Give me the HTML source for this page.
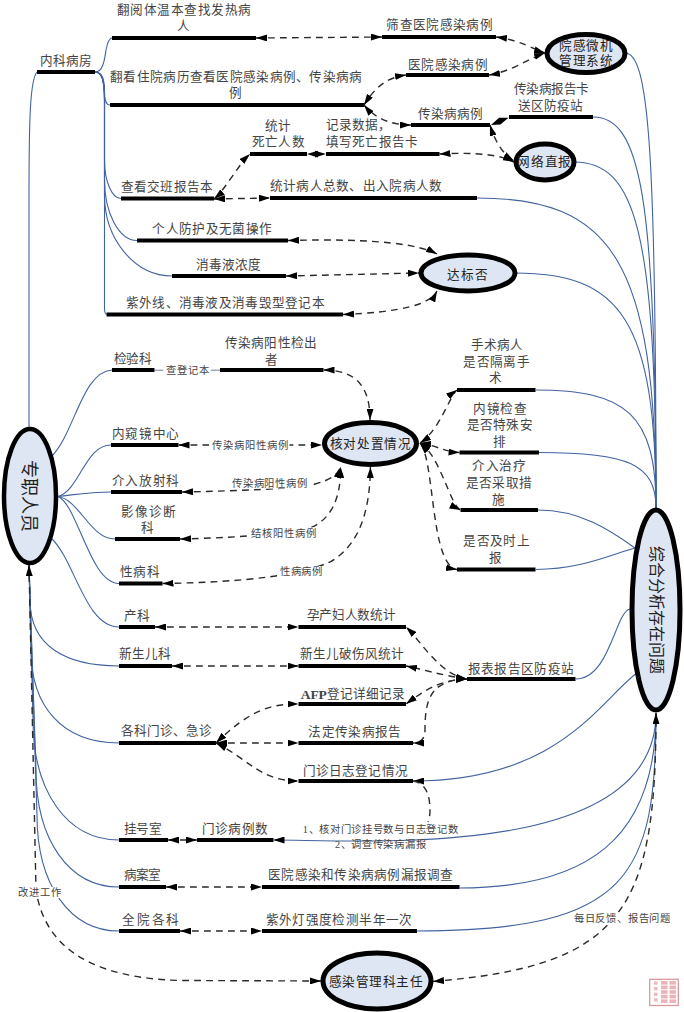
<!DOCTYPE html>
<html lang="zh-CN"><head><meta charset="utf-8"><title>diagram</title>
<style>html,body{margin:0;padding:0;background:#fff;}svg{display:block;font-family:"Liberation Serif",serif;}</style></head>
<body><svg width="684" height="1012" viewBox="0 0 684 1012">
<defs><marker id="ah" viewBox="0 0 11 7" refX="11" refY="3.5" markerWidth="11" markerHeight="7" markerUnits="userSpaceOnUse" orient="auto-start-reverse"><path d="M0,0 L11,3.5 L0,7 z" fill="#000"/></marker></defs>
<rect width="684" height="1012" fill="#fff"/>
<line x1="37" y1="72" x2="95" y2="72" stroke="#000" stroke-width="4.2"/>
<line x1="112" y1="38" x2="256" y2="38" stroke="#000" stroke-width="4.2"/>
<line x1="110" y1="105" x2="364" y2="105" stroke="#000" stroke-width="4.2"/>
<line x1="382" y1="37" x2="496" y2="37" stroke="#000" stroke-width="4.2"/>
<line x1="406" y1="75" x2="489" y2="75" stroke="#000" stroke-width="4.2"/>
<line x1="411" y1="125" x2="490" y2="125" stroke="#000" stroke-width="4.2"/>
<line x1="509" y1="117" x2="593" y2="117" stroke="#000" stroke-width="4.2"/>
<line x1="250" y1="154" x2="307" y2="154" stroke="#000" stroke-width="4.2"/>
<line x1="326" y1="154" x2="439.5" y2="154" stroke="#000" stroke-width="4.2"/>
<line x1="121" y1="198.5" x2="214" y2="198.5" stroke="#000" stroke-width="4.2"/>
<line x1="270" y1="198" x2="477" y2="198" stroke="#000" stroke-width="4.2"/>
<line x1="137" y1="240.5" x2="288" y2="240.5" stroke="#000" stroke-width="4.2"/>
<line x1="172" y1="276" x2="286" y2="276" stroke="#000" stroke-width="4.2"/>
<line x1="106.5" y1="314.5" x2="343" y2="314.5" stroke="#000" stroke-width="4.2"/>
<line x1="112" y1="370" x2="154.5" y2="370" stroke="#000" stroke-width="4.2"/>
<line x1="220" y1="370" x2="323.5" y2="370" stroke="#000" stroke-width="4.2"/>
<line x1="457" y1="390" x2="535.5" y2="390" stroke="#000" stroke-width="4.2"/>
<line x1="111" y1="445" x2="178.5" y2="445" stroke="#000" stroke-width="4.2"/>
<line x1="459.5" y1="452.5" x2="539" y2="452.5" stroke="#000" stroke-width="4.2"/>
<line x1="111" y1="492" x2="182" y2="492" stroke="#000" stroke-width="4.2"/>
<line x1="460.5" y1="510" x2="538" y2="510" stroke="#000" stroke-width="4.2"/>
<line x1="115" y1="539" x2="180" y2="539" stroke="#000" stroke-width="4.2"/>
<line x1="457" y1="569.5" x2="535.5" y2="569.5" stroke="#000" stroke-width="4.2"/>
<line x1="119" y1="583.5" x2="162.5" y2="583.5" stroke="#000" stroke-width="4.2"/>
<line x1="119" y1="627" x2="155" y2="627" stroke="#000" stroke-width="4.2"/>
<line x1="298.5" y1="627" x2="406" y2="627" stroke="#000" stroke-width="4.2"/>
<line x1="119" y1="666" x2="172" y2="666" stroke="#000" stroke-width="4.2"/>
<line x1="298.5" y1="666" x2="406" y2="666" stroke="#000" stroke-width="4.2"/>
<line x1="467" y1="679" x2="575.5" y2="679" stroke="#000" stroke-width="4.2"/>
<line x1="298.5" y1="704" x2="406" y2="704" stroke="#000" stroke-width="4.2"/>
<line x1="119" y1="743" x2="216" y2="743" stroke="#000" stroke-width="4.2"/>
<line x1="298.5" y1="743" x2="413" y2="743" stroke="#000" stroke-width="4.2"/>
<line x1="298.5" y1="781" x2="413" y2="781" stroke="#000" stroke-width="4.2"/>
<line x1="119" y1="840" x2="168" y2="840" stroke="#000" stroke-width="4.2"/>
<line x1="197" y1="840" x2="273.5" y2="840" stroke="#000" stroke-width="4.2"/>
<line x1="119" y1="887" x2="166" y2="887" stroke="#000" stroke-width="4.2"/>
<line x1="262" y1="887" x2="459.5" y2="887" stroke="#000" stroke-width="4.2"/>
<line x1="119" y1="931" x2="180" y2="931" stroke="#000" stroke-width="4.2"/>
<line x1="262" y1="931" x2="417" y2="931" stroke="#000" stroke-width="4.2"/>
<path d="M95,72 C103,72 104.5,60 106,50 C108,40 110,38 112,38" fill="none" stroke="#41639f" stroke-width="1.1"/>
<path d="M95,72 C102,72 104.5,78 104.5,92 C104.5,100 106,105 110,105" fill="none" stroke="#41639f" stroke-width="1.1"/>
<path d="M95,72 C102,72 104.5,80 104.5,100 L104.5,160 C104.5,181.175 111.925,198.5 121,198.5" fill="none" stroke="#41639f" stroke-width="1.1"/>
<path d="M95,72 C102,72 104.5,80 104.5,100 L104.5,180 C104.5,213.275 119.125,240.5 137,240.5" fill="none" stroke="#41639f" stroke-width="1.1"/>
<path d="M95,72 C102,72 104.5,80 104.5,100 L104.5,195 C104.5,239.55 134.875,276 172,276" fill="none" stroke="#41639f" stroke-width="1.1"/>
<path d="M95,72 C102,72 104.5,80 104.5,100 L104.5,308 C104.5,313 105,314.5 107,314.5" fill="none" stroke="#41639f" stroke-width="1.1"/>
<path d="M29,429 L29,200 C29,120 30,80 37,72" fill="none" stroke="#41639f" stroke-width="1.1"/>
<path d="M52,456 C75,432 82,372 112,370" fill="none" stroke="#41639f" stroke-width="1.1"/>
<path d="M58,496.5 C80,490 85,445 111,445" fill="none" stroke="#41639f" stroke-width="1.1"/>
<path d="M58,496.5 C80,494 90,492 111,492" fill="none" stroke="#41639f" stroke-width="1.1"/>
<path d="M58,496.5 C80,500 90,539 115,539" fill="none" stroke="#41639f" stroke-width="1.1"/>
<path d="M58,496.5 C78,505 90,583.5 119,583.5" fill="none" stroke="#41639f" stroke-width="1.1"/>
<path d="M51,538 C75,560 85,627 119,627" fill="none" stroke="#41639f" stroke-width="1.1"/>
<path d="M29,565 L30,600 C30,646.2 65.6,666 119,666" fill="none" stroke="#41639f" stroke-width="1.1"/>
<path d="M29,565 L31,650 C31,705.8 61.8,743 119,743" fill="none" stroke="#41639f" stroke-width="1.1"/>
<path d="M29,565 L33,720 C33,792.0 67.4,840 119,840" fill="none" stroke="#41639f" stroke-width="1.1"/>
<path d="M29,565 L36,770 C36,840.2 69.2,887 119,887" fill="none" stroke="#41639f" stroke-width="1.1"/>
<path d="M29,565 L37,815 C37,884.6 69.8,931 119,931" fill="none" stroke="#41639f" stroke-width="1.1"/>
<path d="M625,53 C648.25,53 656,144.0 656,508" fill="none" stroke="#41639f" stroke-width="1.1"/>
<path d="M593,117 C640.25,117 656,195.2 656,508" fill="none" stroke="#41639f" stroke-width="1.1"/>
<path d="M574,162 C635.5,162 656,231.2 656,508" fill="none" stroke="#41639f" stroke-width="1.1"/>
<path d="M477,198 C611.25,198 656,260.0 656,508" fill="none" stroke="#41639f" stroke-width="1.1"/>
<path d="M515,273 C620.75,273 656,320.0 656,508" fill="none" stroke="#41639f" stroke-width="1.1"/>
<path d="M535.5,390 C625.875,390 656,413.6 656,508" fill="none" stroke="#41639f" stroke-width="1.1"/>
<path d="M539,452.5 C626.75,452.5 656,463.6 656,508" fill="none" stroke="#41639f" stroke-width="1.1"/>
<path d="M538,510 C580,510 610,530 635,548" fill="none" stroke="#41639f" stroke-width="1.1"/>
<path d="M535.5,569.5 C580,569.5 610,555 635,548" fill="none" stroke="#41639f" stroke-width="1.1"/>
<path d="M575.5,679 C610,679 615,612 630,609" fill="none" stroke="#41639f" stroke-width="1.1"/>
<path d="M637,673 C600,700 560,781 413,781" fill="none" stroke="#41639f" stroke-width="1.1" marker-end="url(#ah)"/>
<path d="M656.0,713.0 C656.0,861.6 365.5,840.0 273.5,840.0" fill="none" stroke="#41639f" stroke-width="1.1" marker-end="url(#ah)"/>
<path d="M656.0,713.0 C656.0,839.4 586.6,888.0 459.4,888.0" fill="none" stroke="#41639f" stroke-width="1.1"/>
<path d="M656.0,713.0 C656.0,875.2 630.6,931.0 417.0,931.0" fill="none" stroke="#41639f" stroke-width="1.1"/>
<path d="M256,38 L382,37" fill="none" stroke="#2a2a2a" stroke-width="1.4" stroke-dasharray="6.8 5.2" marker-start="url(#ah)" marker-end="url(#ah)"/>
<path d="M496,37 C520,40 535,50 545,53" fill="none" stroke="#2a2a2a" stroke-width="1.4" stroke-dasharray="6.8 5.2" marker-start="url(#ah)" marker-end="url(#ah)"/>
<path d="M489,75 C510,72 530,58 545,53" fill="none" stroke="#2a2a2a" stroke-width="1.4" stroke-dasharray="6.8 5.2" marker-start="url(#ah)" marker-end="url(#ah)"/>
<path d="M406,75 C385,78 375,88 364,105" fill="none" stroke="#2a2a2a" stroke-width="1.4" stroke-dasharray="6.8 5.2" marker-start="url(#ah)" marker-end="url(#ah)"/>
<path d="M411,125 C390,125 375,118 364,105" fill="none" stroke="#2a2a2a" stroke-width="1.4" stroke-dasharray="6.8 5.2" marker-start="url(#ah)" marker-end="url(#ah)"/>
<path d="M490,125 C494,138 501,153 514,161" fill="none" stroke="#2a2a2a" stroke-width="1.4" stroke-dasharray="6.8 5.2" marker-start="url(#ah)" marker-end="url(#ah)"/>
<path d="M439.5,154 C480,152 500,155 514,162" fill="none" stroke="#2a2a2a" stroke-width="1.4" stroke-dasharray="6.8 5.2" marker-start="url(#ah)" marker-end="url(#ah)"/>
<path d="M214,199 C225,190 238,165 250,154" fill="none" stroke="#2a2a2a" stroke-width="1.4" stroke-dasharray="6.8 5.2" marker-start="url(#ah)" marker-end="url(#ah)"/>
<path d="M214,199 L270,198" fill="none" stroke="#2a2a2a" stroke-width="1.4" stroke-dasharray="6.8 5.2" marker-start="url(#ah)" marker-end="url(#ah)"/>
<path d="M288,240.5 C380,238 420,245 437,254" fill="none" stroke="#2a2a2a" stroke-width="1.4" stroke-dasharray="6.8 5.2" marker-start="url(#ah)" marker-end="url(#ah)"/>
<path d="M286,276 L419,273" fill="none" stroke="#2a2a2a" stroke-width="1.4" stroke-dasharray="6.8 5.2" marker-start="url(#ah)" marker-end="url(#ah)"/>
<path d="M343,314.5 C400,312 430,305 437,291" fill="none" stroke="#2a2a2a" stroke-width="1.4" stroke-dasharray="6.8 5.2" marker-start="url(#ah)" marker-end="url(#ah)"/>
<path d="M323.5,370 C355,370 370,385 370,420" fill="none" stroke="#2a2a2a" stroke-width="1.4" stroke-dasharray="6.8 5.2" marker-start="url(#ah)" marker-end="url(#ah)"/>
<path d="M178.5,445 L322,445" fill="none" stroke="#2a2a2a" stroke-width="1.4" stroke-dasharray="6.8 5.2" marker-start="url(#ah)" marker-end="url(#ah)"/>
<path d="M182,492 C230,491 300,489 315,484 C330,480 338,475 340.6,467" fill="none" stroke="#2a2a2a" stroke-width="1.4" stroke-dasharray="6.8 5.2" marker-start="url(#ah)" marker-end="url(#ah)"/>
<path d="M180,539 C230,538 290,534 310,528 C330,520 341,500 340.6,467" fill="none" stroke="#2a2a2a" stroke-width="1.4" stroke-dasharray="6.8 5.2" marker-start="url(#ah)" marker-end="url(#ah)"/>
<path d="M162.5,583.5 C250,582 300,575 330,562 C360,545 370,510 370.4,467" fill="none" stroke="#2a2a2a" stroke-width="1.4" stroke-dasharray="6.8 5.2" marker-start="url(#ah)" marker-end="url(#ah)"/>
<path d="M420,443 C440,430 450,395 457,390" fill="none" stroke="#2a2a2a" stroke-width="1.4" stroke-dasharray="6.8 5.2" marker-start="url(#ah)" marker-end="url(#ah)"/>
<path d="M420,443 C435,445 445,452 459.5,452.5" fill="none" stroke="#2a2a2a" stroke-width="1.4" stroke-dasharray="6.8 5.2" marker-start="url(#ah)" marker-end="url(#ah)"/>
<path d="M420,443 C440,455 450,505 460.5,510" fill="none" stroke="#2a2a2a" stroke-width="1.4" stroke-dasharray="6.8 5.2" marker-start="url(#ah)" marker-end="url(#ah)"/>
<path d="M420,443 C435,460 430,565 457,569.5" fill="none" stroke="#2a2a2a" stroke-width="1.4" stroke-dasharray="6.8 5.2" marker-start="url(#ah)" marker-end="url(#ah)"/>
<path d="M155,627 L298.5,627" fill="none" stroke="#2a2a2a" stroke-width="1.4" stroke-dasharray="6.8 5.2" marker-start="url(#ah)" marker-end="url(#ah)"/>
<path d="M172,666 L298.5,666" fill="none" stroke="#2a2a2a" stroke-width="1.4" stroke-dasharray="6.8 5.2" marker-start="url(#ah)" marker-end="url(#ah)"/>
<path d="M216,743 C250,710 270,704 298.5,704" fill="none" stroke="#2a2a2a" stroke-width="1.4" stroke-dasharray="6.8 5.2" marker-start="url(#ah)" marker-end="url(#ah)"/>
<path d="M216,743 L298.5,743" fill="none" stroke="#2a2a2a" stroke-width="1.4" stroke-dasharray="6.8 5.2" marker-start="url(#ah)" marker-end="url(#ah)"/>
<path d="M216,743 C250,760 260,781 298.5,781" fill="none" stroke="#2a2a2a" stroke-width="1.4" stroke-dasharray="6.8 5.2" marker-start="url(#ah)" marker-end="url(#ah)"/>
<path d="M467,679 C440,675 420,640 406,627" fill="none" stroke="#2a2a2a" stroke-width="1.4" stroke-dasharray="6.8 5.2" marker-start="url(#ah)" marker-end="url(#ah)"/>
<path d="M467,679 C440,675 425,670 406,666" fill="none" stroke="#2a2a2a" stroke-width="1.4" stroke-dasharray="6.8 5.2" marker-start="url(#ah)" marker-end="url(#ah)"/>
<path d="M467,679 C440,680 425,690 406,704" fill="none" stroke="#2a2a2a" stroke-width="1.4" stroke-dasharray="6.8 5.2" marker-start="url(#ah)" marker-end="url(#ah)"/>
<path d="M467,679 C430,680 425,700 425,730 C425,740 420,743 413,743" fill="none" stroke="#2a2a2a" stroke-width="1.4" stroke-dasharray="6.8 5.2" marker-start="url(#ah)" marker-end="url(#ah)"/>
<path d="M168,840 L197,840" fill="none" stroke="#2a2a2a" stroke-width="1.4" stroke-dasharray="6.8 5.2" marker-start="url(#ah)" marker-end="url(#ah)"/>
<path d="M413,781 C428,783 430,800 430,810 C430,816 429,820 428,822" fill="none" stroke="#2a2a2a" stroke-width="1.4" stroke-dasharray="6.8 5.2"/>
<path d="M166,887 L262,887" fill="none" stroke="#2a2a2a" stroke-width="1.4" stroke-dasharray="6.8 5.2" marker-start="url(#ah)" marker-end="url(#ah)"/>
<path d="M180,931 L262,931" fill="none" stroke="#2a2a2a" stroke-width="1.4" stroke-dasharray="6.8 5.2" marker-start="url(#ah)" marker-end="url(#ah)"/>
<path d="M321,981 L180,980.5 C95,978 45,950 36,890 L29,565" fill="none" stroke="#2a2a2a" stroke-width="1.4" stroke-dasharray="6.8 5.2" marker-start="url(#ah)" marker-end="url(#ah)"/>
<path d="M433.0,981.4 C624.5,966.1 656.0,909.3 656.0,713.0" fill="none" stroke="#2a2a2a" stroke-width="1.4" stroke-dasharray="6.8 5.2" marker-start="url(#ah)" marker-end="url(#ah)"/>
<polygon points="491,125 499,117.8 508.5,117.8 500.5,124.6" fill="#000"/>
<polygon points="307,154.1 318,150.8 318,157.4" fill="#000"/><polygon points="326,154.1 315,150.8 315,157.4" fill="#000"/>
<line x1="154.5" y1="370.2" x2="220" y2="370.2" stroke="#6f7f9f" stroke-width="1"/>
<ellipse cx="586" cy="53.5" rx="39" ry="19" fill="#dfe6f3" stroke="#000" stroke-width="5"/>
<ellipse cx="545" cy="162" rx="29" ry="18" fill="#dfe6f3" stroke="#000" stroke-width="5"/>
<ellipse cx="468" cy="273" rx="47" ry="18" fill="#dfe6f3" stroke="#000" stroke-width="5"/>
<ellipse cx="370.5" cy="443.5" rx="46" ry="21" fill="#dfe6f3" stroke="#000" stroke-width="5"/>
<ellipse cx="30" cy="496" rx="26" ry="67" fill="#dfe6f3" stroke="#000" stroke-width="4.5"/>
<ellipse cx="656" cy="610" rx="24" ry="100" fill="#dfe6f3" stroke="#000" stroke-width="5"/>
<ellipse cx="377" cy="981" rx="54" ry="28" fill="#dfe6f3" stroke="#000" stroke-width="5"/>
<text x="116.7" y="10" font-size="12.6" dominant-baseline="central" font-weight="normal" fill="#444" textLength="134.5" lengthAdjust="spacing">翻阅体温本查找发热病</text>
<text x="183.5" y="26" font-size="12.6" text-anchor="middle" dominant-baseline="central" font-weight="normal" fill="#444" >人</text>
<text x="110.2" y="77" font-size="12.6" dominant-baseline="central" font-weight="normal" fill="#444" textLength="252.0" lengthAdjust="spacing">翻看住院病历查看医院感染病例、传染病病</text>
<text x="235.5" y="93" font-size="12.6" text-anchor="middle" dominant-baseline="central" font-weight="normal" fill="#444" >例</text>
<text x="39.7" y="60.5" font-size="12.6" dominant-baseline="central" font-weight="normal" fill="#444" textLength="52.5" lengthAdjust="spacing">内科病房</text>
<text x="386.2" y="25" font-size="12.6" dominant-baseline="central" font-weight="normal" fill="#444" textLength="106.5" lengthAdjust="spacing">筛查医院感染病例</text>
<text x="407.7" y="64.5" font-size="12.6" dominant-baseline="central" font-weight="normal" fill="#444" textLength="80.0" lengthAdjust="spacing">医院感染病例</text>
<text x="417.7" y="114" font-size="12.6" dominant-baseline="central" font-weight="normal" fill="#444" textLength="65.5" lengthAdjust="spacing">传染病病例</text>
<text x="558.7" y="46" font-size="12.6" dominant-baseline="central" font-weight="normal" fill="#222" textLength="54.5" lengthAdjust="spacing">院感微机</text>
<text x="558.7" y="61" font-size="12.6" dominant-baseline="central" font-weight="normal" fill="#222" textLength="54.5" lengthAdjust="spacing">管理系统</text>
<text x="513.7" y="89" font-size="12.6" dominant-baseline="central" font-weight="normal" fill="#444" textLength="75.5" lengthAdjust="spacing">传染病报告卡</text>
<text x="517.7" y="106" font-size="12.6" dominant-baseline="central" font-weight="normal" fill="#444" textLength="65.5" lengthAdjust="spacing">送区防疫站</text>
<text x="277.5" y="126" font-size="12.6" text-anchor="middle" dominant-baseline="central" font-weight="normal" fill="#444" >统计</text>
<text x="251.7" y="142" font-size="12.6" dominant-baseline="central" font-weight="normal" fill="#444" textLength="53.0" lengthAdjust="spacing">死亡人数</text>
<text x="326" y="124.8" font-size="12.6" dominant-baseline="central" fill="#444">记录数据，</text>
<text x="325.7" y="142.4" font-size="12.6" dominant-baseline="central" font-weight="normal" fill="#444" textLength="92.2" lengthAdjust="spacing">填写死亡报告卡</text>
<text x="120.7" y="187" font-size="12.6" dominant-baseline="central" font-weight="normal" fill="#444" textLength="92.5" lengthAdjust="spacing">查看交班报告本</text>
<text x="269.7" y="186" font-size="12.6" dominant-baseline="central" font-weight="normal" fill="#444" textLength="172.5" lengthAdjust="spacing">统计病人总数、出入院病人数</text>
<text x="152.2" y="228.5" font-size="12.6" dominant-baseline="central" font-weight="normal" fill="#444" textLength="120.0" lengthAdjust="spacing">个人防护及无菌操作</text>
<text x="195.7" y="264.5" font-size="12.6" dominant-baseline="central" font-weight="normal" fill="#444" textLength="65.5" lengthAdjust="spacing">消毒液浓度</text>
<text x="125.7" y="303" font-size="12.6" dominant-baseline="central" font-weight="normal" fill="#444" textLength="199.0" lengthAdjust="spacing">紫外线、消毒液及消毒毁型登记本</text>
<text x="113.7" y="359" font-size="12.6" dominant-baseline="central" font-weight="normal" fill="#444" textLength="38.5" lengthAdjust="spacing">检验科</text>
<text x="224.7" y="343" font-size="12.6" dominant-baseline="central" font-weight="normal" fill="#444" textLength="92.5" lengthAdjust="spacing">传染病阳性检出</text>
<text x="271" y="359.5" font-size="12.6" text-anchor="middle" dominant-baseline="central" font-weight="normal" fill="#444" >者</text>
<text x="470.7" y="345.3" font-size="12.6" dominant-baseline="central" font-weight="normal" fill="#444" textLength="52.1" lengthAdjust="spacing">手术病人</text>
<text x="463.3" y="361.6" font-size="12.6" dominant-baseline="central" font-weight="normal" fill="#444" textLength="66.4" lengthAdjust="spacing">是否隔离手</text>
<text x="495.7" y="378.1" font-size="12.6" text-anchor="middle" dominant-baseline="central" font-weight="normal" fill="#444" >术</text>
<text x="111.7" y="434" font-size="12.6" dominant-baseline="central" font-weight="normal" fill="#444" textLength="67.5" lengthAdjust="spacing">内窥镜中心</text>
<text x="473.2" y="408.5" font-size="12.6" dominant-baseline="central" font-weight="normal" fill="#444" textLength="53.3" lengthAdjust="spacing">内镜检查</text>
<text x="466.5" y="425" font-size="12.6" dominant-baseline="central" font-weight="normal" fill="#444" textLength="66.2" lengthAdjust="spacing">是否特殊安</text>
<text x="499.4" y="442.3" font-size="12.6" text-anchor="middle" dominant-baseline="central" font-weight="normal" fill="#444" >排</text>
<text x="111.7" y="480.5" font-size="12.6" dominant-baseline="central" font-weight="normal" fill="#444" textLength="67.5" lengthAdjust="spacing">介入放射科</text>
<text x="472.4" y="466.3" font-size="12.6" dominant-baseline="central" font-weight="normal" fill="#444" textLength="53.4" lengthAdjust="spacing">介入治疗</text>
<text x="465.7" y="482.6" font-size="12.6" dominant-baseline="central" font-weight="normal" fill="#444" textLength="66.5" lengthAdjust="spacing">是否采取措</text>
<text x="498.1" y="500.4" font-size="12.6" text-anchor="middle" dominant-baseline="central" font-weight="normal" fill="#444" >施</text>
<text x="120.7" y="511.5" font-size="12.6" dominant-baseline="central" font-weight="normal" fill="#444" textLength="55.5" lengthAdjust="spacing">影像诊断</text>
<text x="147.5" y="528" font-size="12.6" text-anchor="middle" dominant-baseline="central" font-weight="normal" fill="#444" >科</text>
<text x="463.3" y="541.1" font-size="12.6" dominant-baseline="central" font-weight="normal" fill="#444" textLength="66.4" lengthAdjust="spacing">是否及时上</text>
<text x="495.7" y="558.4" font-size="12.6" text-anchor="middle" dominant-baseline="central" font-weight="normal" fill="#444" >报</text>
<text x="119.7" y="572" font-size="12.6" dominant-baseline="central" font-weight="normal" fill="#444" textLength="40.5" lengthAdjust="spacing">性病科</text>
<text x="123.7" y="616" font-size="12.6" dominant-baseline="central" font-weight="normal" fill="#444" textLength="26.5" lengthAdjust="spacing">产科</text>
<text x="306.7" y="615" font-size="12.6" dominant-baseline="central" font-weight="normal" fill="#444" textLength="89.0" lengthAdjust="spacing">孕产妇人数统计</text>
<text x="119.2" y="654" font-size="12.6" dominant-baseline="central" font-weight="normal" fill="#444" textLength="52.0" lengthAdjust="spacing">新生儿科</text>
<text x="299.7" y="654" font-size="12.6" dominant-baseline="central" font-weight="normal" fill="#444" textLength="104.5" lengthAdjust="spacing">新生儿破伤风统计</text>
<text x="467.7" y="669" font-size="12.6" dominant-baseline="central" font-weight="normal" fill="#444" textLength="106.5" lengthAdjust="spacing">报表报告区防疫站</text>
<text x="300.7" y="694" font-size="12.6" dominant-baseline="central" fill="#444" textLength="103.8" lengthAdjust="spacing"><tspan font-weight="bold" font-size="13.5">AFP</tspan>登记详细记录</text>
<text x="120.7" y="731" font-size="12.6" dominant-baseline="central" font-weight="normal" fill="#444" textLength="91.5" lengthAdjust="spacing">各科门诊、急诊</text>
<text x="308.2" y="732" font-size="12.6" dominant-baseline="central" font-weight="normal" fill="#444" textLength="93.0" lengthAdjust="spacing">法定传染病报告</text>
<text x="302.7" y="771" font-size="12.6" dominant-baseline="central" font-weight="normal" fill="#444" textLength="105.0" lengthAdjust="spacing">门诊日志登记情况</text>
<text x="123.7" y="828.5" font-size="12.6" dominant-baseline="central" font-weight="normal" fill="#444" textLength="38.5" lengthAdjust="spacing">挂号室</text>
<text x="201.7" y="828.5" font-size="12.6" dominant-baseline="central" font-weight="normal" fill="#444" textLength="66.5" lengthAdjust="spacing">门诊病例数</text>
<text x="123.7" y="875" font-size="12.6" dominant-baseline="central" font-weight="normal" fill="#444" textLength="37.5" lengthAdjust="spacing">病案室</text>
<text x="268.2" y="875" font-size="12.6" dominant-baseline="central" font-weight="normal" fill="#444" textLength="185.0" lengthAdjust="spacing">医院感染和传染病病例漏报调查</text>
<text x="122.2" y="920" font-size="12.6" dominant-baseline="central" font-weight="normal" fill="#444" textLength="57.0" lengthAdjust="spacing">全院各科</text>
<text x="265.7" y="920" font-size="12.6" dominant-baseline="central" font-weight="normal" fill="#444" textLength="146.5" lengthAdjust="spacing">紫外灯强度检测半年一次</text>
<text x="517.1" y="162" font-size="12.6" dominant-baseline="central" font-weight="normal" fill="#222" textLength="54.1" lengthAdjust="spacing">网络直报</text>
<text x="446.7" y="275" font-size="12.6" dominant-baseline="central" font-weight="normal" fill="#222" textLength="41.0" lengthAdjust="spacing">达标否</text>
<text x="329.7" y="443.5" font-size="12.6" dominant-baseline="central" font-weight="normal" fill="#222" textLength="81.0" lengthAdjust="spacing">核对处置情况</text>
<text x="328.7" y="982" font-size="12.6" dominant-baseline="central" font-weight="normal" fill="#222" textLength="94.1" lengthAdjust="spacing">感染管理科主任</text>
<rect x="163.4" y="364.7" width="47.5" height="11" fill="#fff"/>
<text x="166.1" y="370.2" font-size="10.3" dominant-baseline="central" font-weight="normal" fill="#444" textLength="43.0" lengthAdjust="spacing">查登记本</text>
<rect x="209" y="439.5" width="80.5" height="11" fill="#fff"/>
<text x="211.7" y="445" font-size="10.3" dominant-baseline="central" font-weight="normal" fill="#444" textLength="76.0" lengthAdjust="spacing">传染病阳性病例</text>
<rect x="229" y="477.5" width="80" height="11" fill="#fff"/>
<text x="231.7" y="483" font-size="10.3" dominant-baseline="central" font-weight="normal" fill="#444" textLength="75.5" lengthAdjust="spacing">传染病阳性病例</text>
<rect x="248" y="527.5" width="70" height="11" fill="#fff"/>
<text x="250.7" y="533" font-size="10.3" dominant-baseline="central" font-weight="normal" fill="#444" textLength="65.5" lengthAdjust="spacing">结核阳性病例</text>
<rect x="277" y="566.0" width="47" height="11" fill="#fff"/>
<text x="279.7" y="571.5" font-size="10.3" dominant-baseline="central" font-weight="normal" fill="#444" textLength="42.5" lengthAdjust="spacing">性病病例</text>
<rect x="15" y="887.0" width="48" height="11" fill="#fff"/>
<text x="17.7" y="892.5" font-size="10.3" dominant-baseline="central" font-weight="normal" fill="#444" textLength="43.5" lengthAdjust="spacing">改进工作</text>
<rect x="571" y="912.5" width="101" height="11" fill="#fff"/>
<text x="573.7" y="918" font-size="10.3" dominant-baseline="central" font-weight="normal" fill="#444" textLength="96.5" lengthAdjust="spacing">每日反馈、报告问题</text>
<text x="302.7" y="829" font-size="10.3" dominant-baseline="central" font-weight="normal" fill="#444" textLength="155.0" lengthAdjust="spacing">1、核对门诊挂号数与日志登记数</text>
<text x="334.9" y="844.3" font-size="10.3" dominant-baseline="central" font-weight="normal" fill="#444" textLength="90.6" lengthAdjust="spacing">2、调查传染病漏报</text>
<text x="29" y="495.5" font-size="18" text-anchor="middle" dominant-baseline="central" fill="#222" transform="rotate(90 29 495.5)">专职人员</text>
<text x="656" y="609.7" font-size="16" text-anchor="middle" dominant-baseline="central" fill="#222" transform="rotate(90 656 609.7)">综合分析存在问题</text>
<rect x="649.7" y="979.3" width="28.6" height="26.2" fill="none" stroke="#dc9a9e" stroke-width="1.3"/>
<g fill="#e39aa2">
<rect x="654" y="981.5" width="3.6" height="3.2" opacity="0.7"/>
<rect x="654" y="987.1" width="3.6" height="3.2" opacity="0.7"/>
<rect x="654" y="992.7" width="3.6" height="3.2" opacity="0.7"/>
<rect x="654" y="998.3" width="3.6" height="3.2" opacity="0.7"/>
<rect x="661" y="981.0" width="6.5" height="3.6" opacity="0.75"/>
<rect x="661" y="985.6" width="6.5" height="3.6" opacity="0.75"/>
<rect x="661" y="990.2" width="6.5" height="3.6" opacity="0.75"/>
<rect x="661" y="994.8" width="6.5" height="3.6" opacity="0.75"/>
<rect x="661" y="999.4" width="6.5" height="3.6" opacity="0.75"/>
<rect x="669.5" y="981.0" width="6.5" height="3.6" opacity="0.75"/>
<rect x="669.5" y="985.6" width="6.5" height="3.6" opacity="0.75"/>
<rect x="669.5" y="990.2" width="6.5" height="3.6" opacity="0.75"/>
<rect x="669.5" y="994.8" width="6.5" height="3.6" opacity="0.75"/>
<rect x="669.5" y="999.4" width="6.5" height="3.6" opacity="0.75"/>
</g>
</svg></body></html>
